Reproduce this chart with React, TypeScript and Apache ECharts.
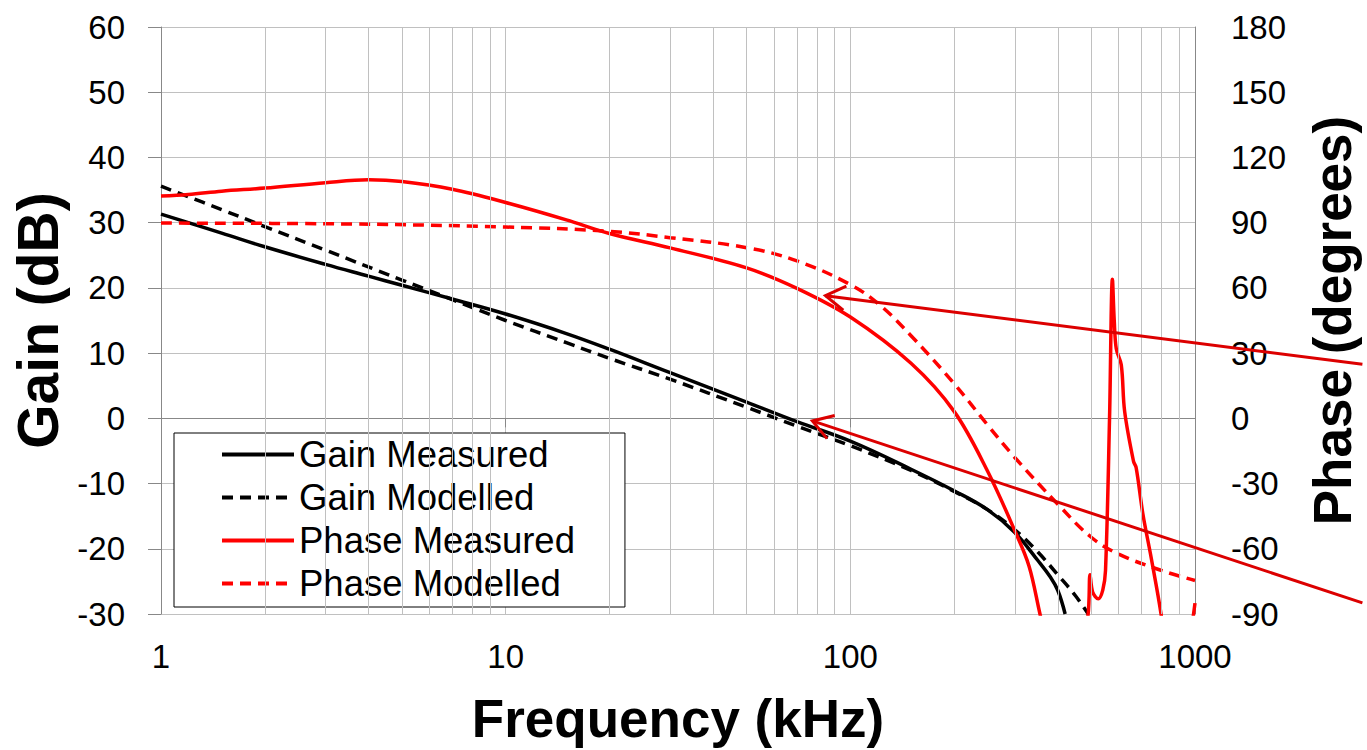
import React, { useEffect, useRef } from "react";
import * as echarts from "echarts";

const FONT = "'Liberation Sans', Arial, Helvetica, sans-serif";

// Frequencies (kHz) and values
const gainMeasFreq = [1, 1.5, 2, 3, 4, 5, 7, 10, 15, 20, 30, 50, 70, 100, 150, 200, 250, 300, 350, 380, 400, 420];
const gainMeasVal = [31.3, 28.4, 26.3, 23.6, 21.8, 20.4, 18.3, 16.0, 13.0, 10.6, 7.0, 2.5, -0.5, -3.5, -7.8, -11.1, -14.0, -17.5, -21.8, -24.3, -26.4, -30];

const gainModFreq = [1, 1.5, 2, 3, 5, 7, 10, 15, 20, 30, 50, 70, 100, 150, 200, 250, 300, 350, 400, 450, 490];
const gainModVal = [35.6, 32.0, 29.4, 25.8, 21.2, 18.2, 15.0, 11.6, 9.2, 6.0, 1.7, -1.2, -4.2, -8.0, -11.2, -14.0, -17.1, -20.5, -24.0, -27.2, -30];

const phaseMeasFreq = [1, 1.2, 1.5, 2, 3, 4, 5, 7, 10, 15, 20, 30, 50, 70, 100, 150, 200, 250, 300, 330, 355, 420, 488, 496, 505, 524, 540, 550, 565, 576, 583, 591, 611, 625, 663, 675, 706, 746, 797, 880, 980, 1000];
const phaseMeasVal = [102.3, 103, 104.5, 105.9, 108.4, 109.7, 108.9, 105.4, 99.3, 91.3, 85, 78.4, 69.2, 59.8, 46.6, 25.3, 3.2, -24.2, -51.7, -68, -90, -140, -92, -72, -80, -83, -79, -70, 0, 64, 45, 32, 24.6, 3.2, -19.7, -22.7, -44, -64, -90, -140, -95, -85];

const phaseModFreq = [1, 3, 10, 20, 30, 50, 70, 100, 122, 150, 200, 250, 300, 400, 500, 600, 800, 1000];
const phaseModVal = [89.8, 89.5, 88, 86, 83.1, 78.5, 72.4, 61.5, 52, 38, 16, -3, -18, -39.5, -54.7, -62.4, -70, -74.6];

const minorGrid = [2, 3, 4, 5, 6, 7, 8, 9, 20, 30, 40, 50, 60, 70, 80, 90, 200, 300, 400, 500, 600, 700, 800, 900];

const seriesNames = ["Gain Measured", "Gain Modelled", "Phase Measured", "Phase Modelled"];

// Annotation arrows: tip and tail in data coordinates (kHz, value) on given series' axes
const arrowPhase = { seriesIndex: 3, tip: [84.7, 56.4], tail: [3060, 24.9] };
const arrowGain = { seriesIndex: 1, tip: [77.6, -0.4], tail: [3060, -28.3] };

const zip = (xs: number[], ys: number[]) => xs.map((x, i) => [x, ys[i]]);

export default function App() {
  const ref = useRef<HTMLDivElement>(null);
  useEffect(() => {
    document.body.style.margin = "0";
    const chart = echarts.init(ref.current!, null, { renderer: "svg" });
    const axisGray = "#888888";
    const gridGray = "#c0c0c0";
    const option: any = {
      animation: false,
      backgroundColor: "#ffffff",
      textStyle: { fontFamily: FONT },
      grid: { left: 161, right: 168, top: 27, bottom: 133, containLabel: false },
      legend: {
        orient: "vertical",
        left: 174,
        top: 433,
        data: seriesNames,
        itemWidth: 72,
        itemHeight: 14,
        itemGap: 6,
        padding: [3, 50, 5, 46],
        backgroundColor: "#ffffff",
        borderColor: "#000000",
        borderWidth: 1,
        borderRadius: 0,
        itemStyle: { color: "transparent", borderColor: "transparent", borderWidth: 0, opacity: 0 },
        lineStyle: { width: 4 },
        textStyle: { fontSize: 36.5, color: "#000", fontFamily: FONT },
      },
      xAxis: {
        type: "log",
        logBase: 10,
        min: 1,
        max: 1000,
        axisLine: { show: true, lineStyle: { color: axisGray, width: 1 } },
        axisTick: { show: true, length: 9, lineStyle: { color: axisGray } },
        axisLabel: { fontSize: 33, color: "#000", margin: 26, fontFamily: FONT, formatter: (v: number) => String(v) },
        splitLine: { show: true, lineStyle: { color: gridGray, width: 1 } },
        name: "Frequency (kHz)",
        nameLocation: "middle",
        nameGap: 78,
        nameTextStyle: { fontSize: 53, fontWeight: "bold", color: "#000", fontFamily: FONT },
      },
      yAxis: [
        {
          type: "value",
          min: -30,
          max: 60,
          interval: 10,
          axisLine: { show: true, lineStyle: { color: axisGray } },
          axisTick: { show: true, length: 13, lineStyle: { color: axisGray } },
          axisLabel: { fontSize: 33, color: "#000", margin: 36, fontFamily: FONT },
          splitLine: { show: true, lineStyle: { color: gridGray, width: 1 } },
          name: "Gain (dB)",
          nameLocation: "middle",
          nameRotate: 90,
          nameGap: 91,
          nameTextStyle: { fontSize: 57, fontWeight: "bold", color: "#000", fontFamily: FONT },
        },
        {
          type: "value",
          position: "right",
          min: -90,
          max: 180,
          interval: 30,
          axisLine: { show: true, lineStyle: { color: axisGray } },
          axisTick: { show: false },
          axisLabel: { fontSize: 33, color: "#000", margin: 36, fontFamily: FONT },
          splitLine: { show: false },
          name: "Phase (degrees)",
          nameLocation: "middle",
          nameRotate: 90,
          nameGap: 111,
          nameTextStyle: { fontSize: 53, fontWeight: "bold", color: "#000", fontFamily: FONT },
        },
      ],
      series: [
        {
          name: "Gain Measured",
          type: "line",
          yAxisIndex: 0,
          data: zip(gainMeasFreq, gainMeasVal),
          symbol: "none",
          smooth: 0.4,
          lineStyle: { color: "#000000", width: 3.5, type: "solid" },
          itemStyle: { color: "#000000" },
          z: 3,
        },
        {
          name: "Gain Modelled",
          type: "line",
          yAxisIndex: 0,
          data: zip(gainModFreq, gainModVal),
          symbol: "none",
          smooth: 0.4,
          lineStyle: { color: "#000000", width: 3.5, type: [11, 7] },
          itemStyle: { color: "#000000" },
          z: 3,
        },
        {
          name: "Phase Measured",
          type: "line",
          yAxisIndex: 1,
          data: zip(phaseMeasFreq, phaseMeasVal),
          symbol: "none",
          smooth: 0.35,
          lineStyle: { color: "#ff0000", width: 3.5, type: "solid" },
          itemStyle: { color: "#ff0000" },
          z: 3,
        },
        {
          name: "Phase Modelled",
          type: "line",
          yAxisIndex: 1,
          data: zip(phaseModFreq, phaseModVal),
          symbol: "none",
          smooth: 0.4,
          lineStyle: { color: "#ff0000", width: 3.5, type: [11, 7] },
          itemStyle: { color: "#ff0000" },
          z: 3,
        },
        {
          name: "minor-grid",
          type: "line",
          yAxisIndex: 0,
          data: [],
          symbol: "none",
          z: 1,
          silent: true,
          markLine: {
            silent: true,
            symbol: ["none", "none"],
            label: { show: false },
            lineStyle: { color: gridGray, width: 1, type: "solid" },
            data: minorGrid.map((v) => ({ xAxis: v })),
          },
        },
      ],
    };
    chart.setOption(option);

    const arrowColor = "#dc0000";
    const graphics: any[] = [];
    [arrowPhase, arrowGain].forEach((a) => {
      const tip = chart.convertToPixel({ seriesIndex: a.seriesIndex }, a.tip) as number[];
      const tail = chart.convertToPixel({ seriesIndex: a.seriesIndex }, a.tail) as number[];
      if (!tip || !tail) return;
      const dx = tail[0] - tip[0];
      const dy = tail[1] - tip[1];
      const len = Math.sqrt(dx * dx + dy * dy);
      const ux = dx / len;
      const uy = dy / len;
      const arm = 23;
      const ang = (32 * Math.PI) / 180;
      const c = Math.cos(ang);
      const s = Math.sin(ang);
      const p1 = [tip[0] + arm * (ux * c - uy * s), tip[1] + arm * (ux * s + uy * c)];
      const p2 = [tip[0] + arm * (ux * c + uy * s), tip[1] + arm * (-ux * s + uy * c)];
      graphics.push({
        type: "line",
        shape: { x1: tip[0], y1: tip[1], x2: tail[0], y2: tail[1] },
        style: { stroke: arrowColor, lineWidth: 3 },
        z: 10,
      });
      graphics.push({
        type: "polyline",
        shape: { points: [p1, tip, p2] },
        style: { stroke: arrowColor, lineWidth: 3, fill: null },
        z: 10,
      });
    });
    chart.setOption({ graphic: graphics });

    return () => chart.dispose();
  }, []);
  return <div ref={ref} style={{ width: 1367, height: 750 }} />;
}
